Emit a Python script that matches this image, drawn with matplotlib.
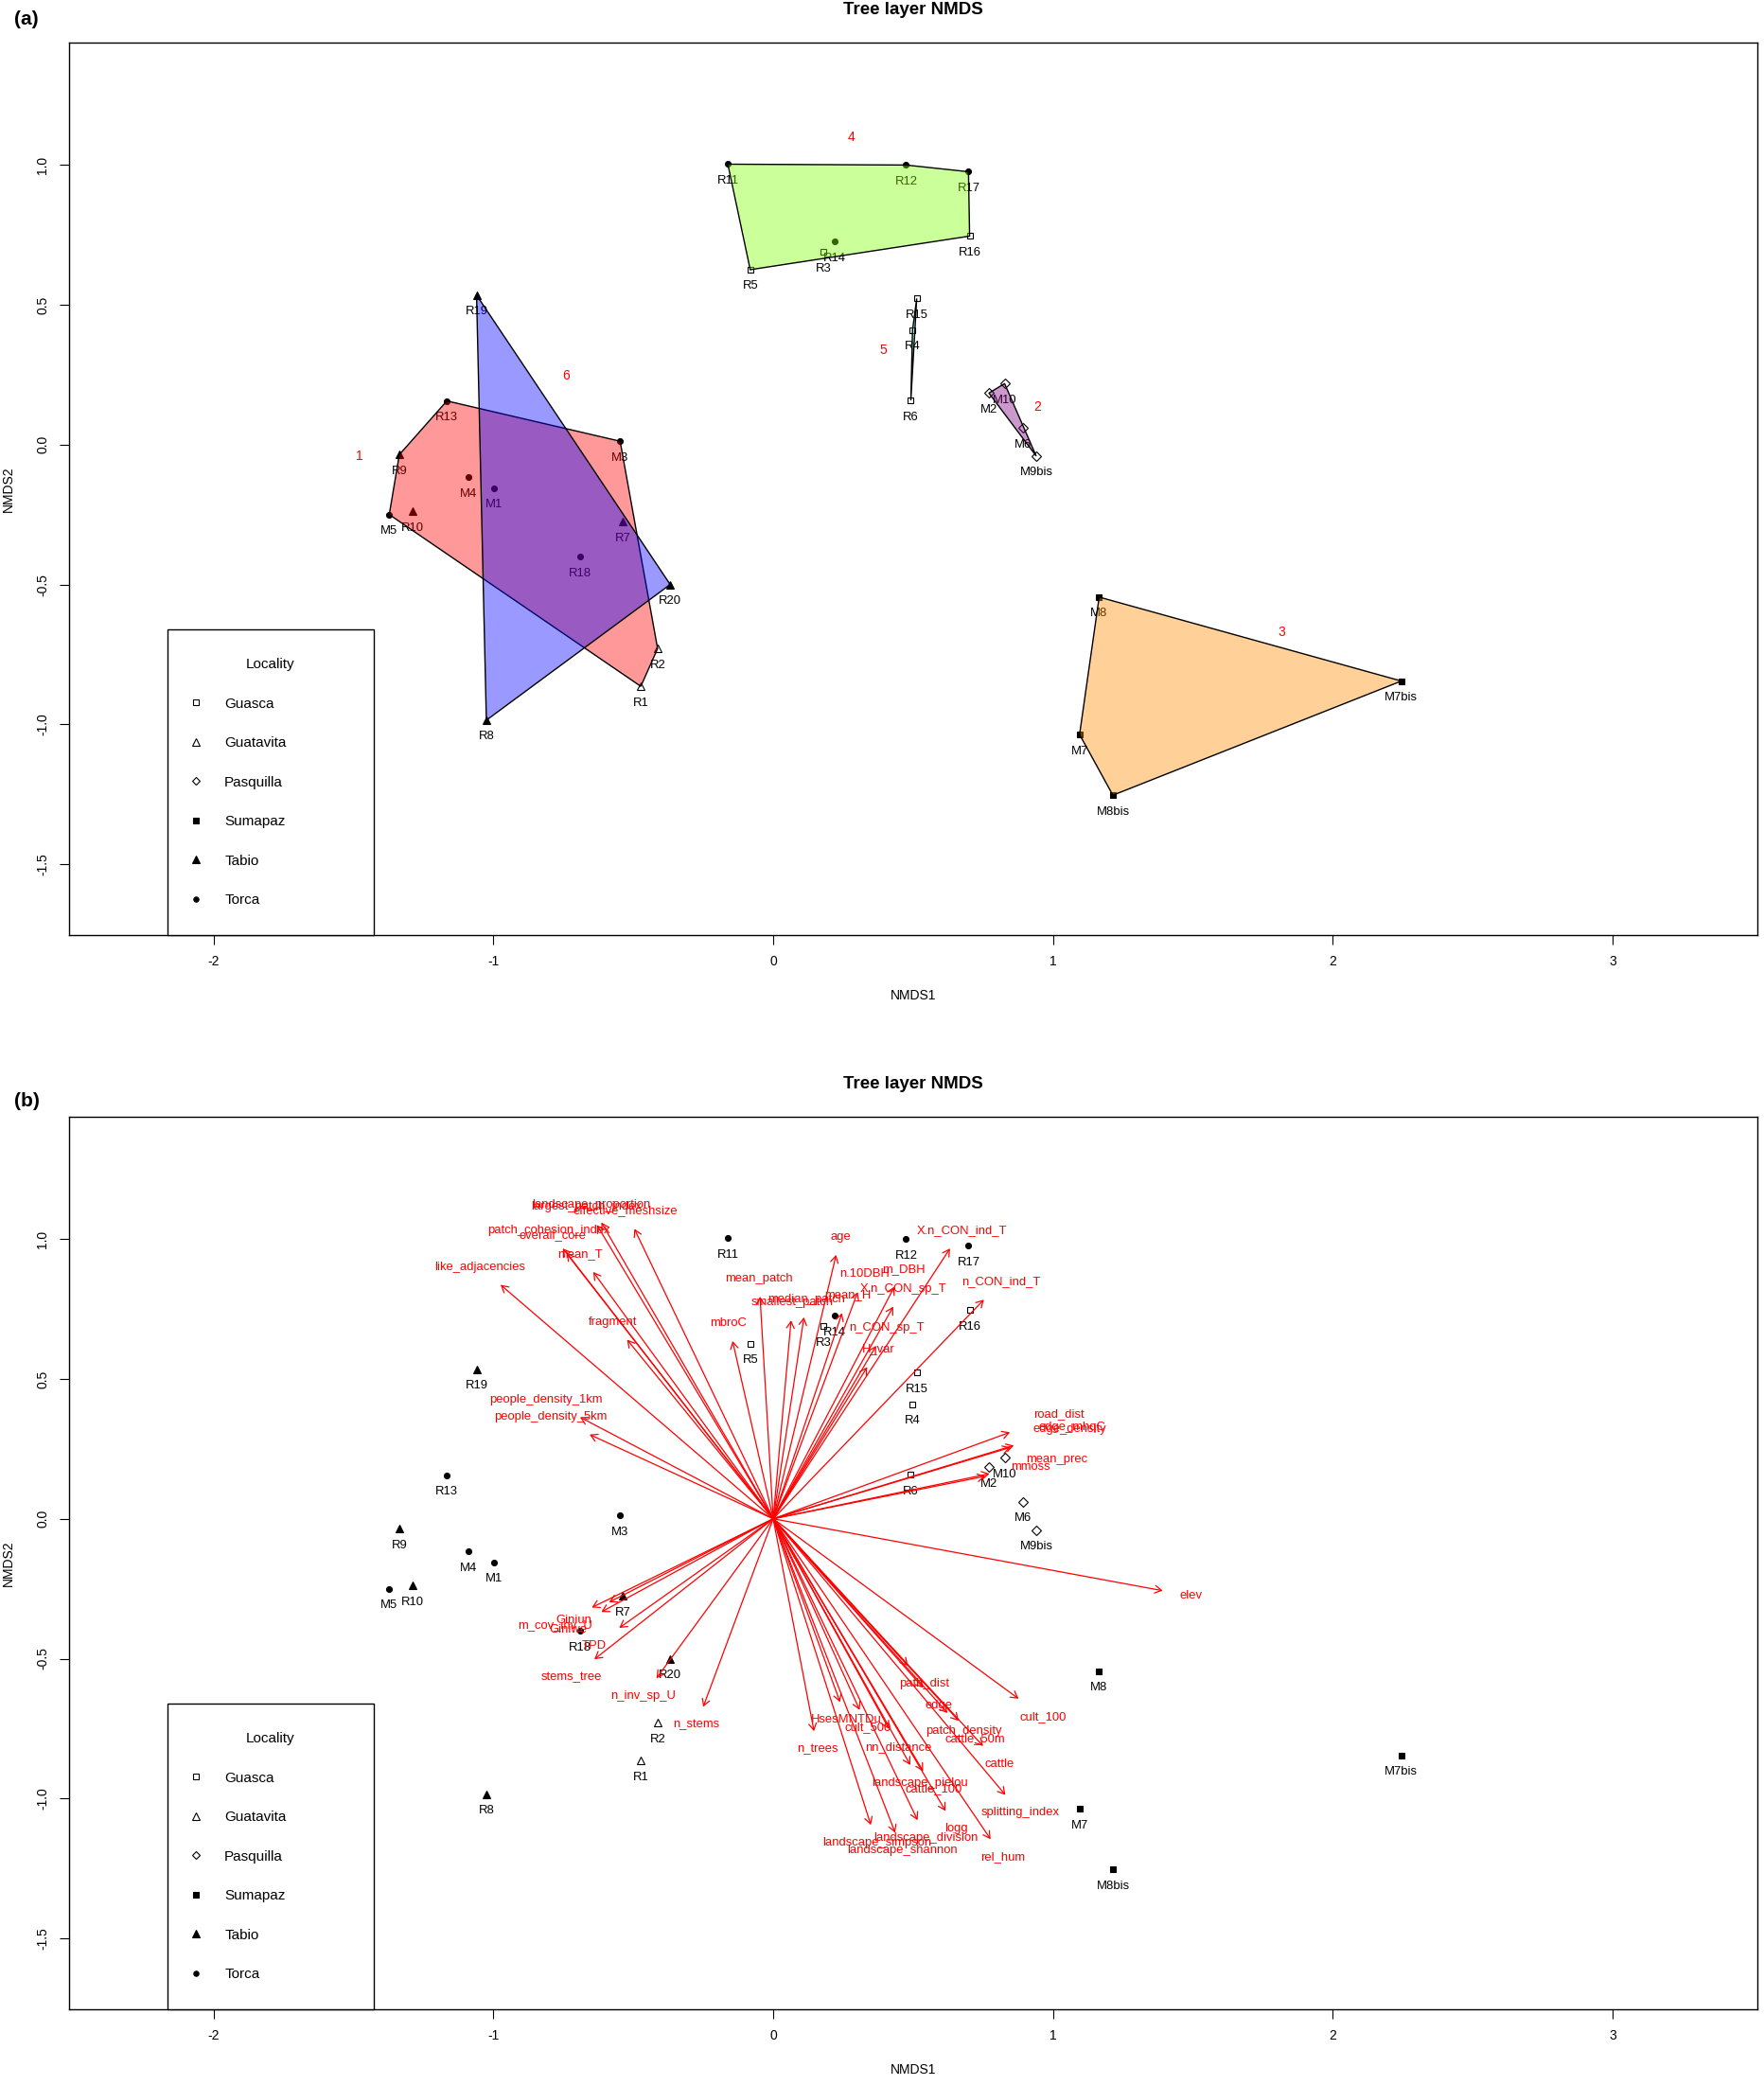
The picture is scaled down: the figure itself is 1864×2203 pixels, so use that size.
import numpy as np
import matplotlib.pyplot as plt
from matplotlib.lines import Line2D
from matplotlib.patches import Polygon

plt.rcParams['font.family'] = ['Liberation Sans', 'DejaVu Sans']
plt.rcParams['axes.unicode_minus'] = False

# site scores (NMDS1, NMDS2), locality and cluster
site = ['R1', 'R2', 'R3', 'R4', 'R5', 'R6', 'R7', 'R8', 'R9', 'R10',
        'R11', 'R12', 'R13', 'R14', 'R15', 'R16', 'R17', 'R18', 'R19', 'R20',
        'M1', 'M2', 'M3', 'M4', 'M5', 'M6', 'M7', 'M7bis', 'M8', 'M8bis',
        'M9bis', 'M10']
nmds1 = [-0.473, -0.413, 0.179, 0.498, -0.082, 0.492, -0.537, -1.025, -1.336, -1.290,
         -0.162, 0.475, -1.166, 0.221, 0.513, 0.702, 0.698, -0.689, -1.060, -0.368,
         -0.997, 0.771, -0.547, -1.088, -1.372, 0.892, 1.095, 2.245, 1.165, 1.214,
         0.940, 0.827]
nmds2 = [-0.864, -0.729, 0.689, 0.409, 0.625, 0.158, -0.275, -0.985, -0.036, -0.238,
         1.002, 0.999, 0.156, 0.725, 0.522, 0.745, 0.975, -0.401, 0.534, -0.500,
         -0.155, 0.184, 0.012, -0.117, -0.250, 0.060, -1.036, -0.845, -0.545, -1.253,
         -0.041, 0.218]
locality = ['Guatavita', 'Guatavita', 'Guasca', 'Guasca', 'Guasca', 'Guasca', 'Tabio', 'Tabio', 'Tabio', 'Tabio',
            'Torca', 'Torca', 'Torca', 'Torca', 'Guasca', 'Guasca', 'Torca', 'Torca', 'Tabio', 'Tabio',
            'Torca', 'Pasquilla', 'Torca', 'Torca', 'Torca', 'Pasquilla', 'Sumapaz', 'Sumapaz', 'Sumapaz', 'Sumapaz',
            'Pasquilla', 'Pasquilla']
cluster = [1, 1, 4, 5, 4, 5, 6, 6, 1, 1,
           4, 4, 1, 4, 5, 4, 4, 6, 6, 6,
           6, 2, 1, 1, 1, 2, 3, 3, 3, 3,
           2, 2]

# cluster numbers written on panel (a)
clus_id = [1, 2, 3, 4, 5, 6]
clus_x = [-1.48, 0.943, 1.817, 0.28, 0.393, -0.74]
clus_y = [-0.04, 0.136, -0.669, 1.10, 0.339, 0.246]
clus_col = ['red', 'purple', 'darkorange', 'chartreuse', 'cyan', 'blue']

# fitted environmental vectors (arrow tips)
env_name = ['like_adjacencies', 'patch_cohesion_index', 'overall_core', 'landscape_proportion',
            'largest_patch_index', 'effective_meshsize', 'mean_T', 'fragment', 'mbroC', 'mean_patch',
            'smallest_patch', 'median_patch', 'age', 'n.10DBH', 'm_DBH', 'mean_H', 'X.n_CON_sp_T',
            'X.n_CON_ind_T', 'n_CON_ind_T', 'n_CON_sp_T', 'H_var', 'people_density_1km',
            'people_density_5km', 'road_dist', 'edge_density', 'edge_mhqC', 'mean_prec', 'mmoss',
            'elev', 'm_cov_inv_U', 'Giniun', 'Giniwe', 'TPD', 'stems_tree', 'n_inv_sp_U', 'n_stems',
            'n_trees', 'HsesMNTDu', 'cult_500', 'nn_distance', 'path_dist', 'edge', 'patch_density',
            'cattle_50m', 'cult_100', 'cattle', 'splitting_index', 'landscape_pielou', 'cattle_100',
            'logg', 'landscape_division', 'landscape_simpson', 'landscape_shannon', 'rel_hum']
env_x = [-0.974, -0.752, -0.738, -0.614, -0.630, -0.496, -0.643, -0.522, -0.145, -0.047,
         0.064, 0.110, 0.225, 0.302, 0.433, 0.246, 0.429, 0.632, 0.753, 0.368,
         0.336, -0.690, -0.656, 0.846, 0.848, 0.860, 0.773, 0.758, 1.392, -0.648,
         -0.586, -0.614, -0.550, -0.639, -0.417, -0.250, 0.146, 0.239, 0.309, 0.414,
         0.482, 0.536, 0.623, 0.663, 0.877, 0.750, 0.830, 0.490, 0.536, 0.616,
         0.516, 0.349, 0.436, 0.777]
env_y = [0.836, 0.966, 0.950, 1.059, 1.050, 1.036, 0.882, 0.640, 0.635, 0.794,
         0.709, 0.720, 0.943, 0.810, 0.829, 0.735, 0.758, 0.966, 0.783, 0.618,
         0.542, 0.363, 0.301, 0.309, 0.255, 0.262, 0.161, 0.152, -0.257, -0.317,
         -0.298, -0.333, -0.390, -0.502, -0.570, -0.672, -0.759, -0.655, -0.683, -0.751,
         -0.525, -0.604, -0.694, -0.722, -0.643, -0.812, -0.987, -0.880, -0.902, -1.044,
         -1.077, -1.094, -1.122, -1.145]

loc_names = ['Guasca', 'Guatavita', 'Pasquilla', 'Sumapaz', 'Tabio', 'Torca']
loc_marker = {'Guasca': ('s', 'none', 5.0), 'Guatavita': ('^', 'none', 6.0),
              'Pasquilla': ('D', 'none', 4.6), 'Sumapaz': ('s', 'black', 5.0),
              'Tabio': ('^', 'black', 6.0), 'Torca': ('o', 'black', 4.3)}

xticks = [-2, -1, 0, 1, 2, 3]
yticks = [-1.5, -1.0, -0.5, 0.0, 0.5, 1.0]

FS = 9.4


def convex_hull(pts):
    pts = sorted(set(pts))
    if len(pts) < 3:
        return pts

    def cross(o, a, b):
        return (a[0] - o[0]) * (b[1] - o[1]) - (a[1] - o[1]) * (b[0] - o[0])
    lower, upper = [], []
    for p in pts:
        while len(lower) >= 2 and cross(lower[-2], lower[-1], p) <= 0:
            lower.pop()
        lower.append(p)
    for p in reversed(pts):
        while len(upper) >= 2 and cross(upper[-2], upper[-1], p) <= 0:
            upper.pop()
        upper.append(p)
    return lower[:-1] + upper[:-1]


def setup(ax):
    ax.set_xlim(-2.516, 3.517)
    ax.set_ylim(-1.753, 1.436)
    ax.set_xticks(xticks)
    ax.set_xticklabels([str(t) for t in xticks])
    ax.set_yticks(yticks)
    ax.set_yticklabels(['%.1f' % t for t in yticks], rotation=90, va='center')
    ax.tick_params(direction='out', length=7, width=0.8, labelsize=10, pad=8)
    for s in ax.spines.values():
        s.set_linewidth(1.0)
    ax.set_xlabel('NMDS1', fontsize=10, labelpad=16)
    ax.set_ylabel('NMDS2', fontsize=10, labelpad=16)
    ax.set_title('Tree layer NMDS', fontsize=13.5, fontweight='bold', pad=22)


def draw_sites(ax):
    x = np.array(nmds1)
    y = np.array(nmds2)
    loc = np.array(locality)
    for name in loc_names:
        m, fc, ms = loc_marker[name]
        sel = loc == name
        ax.plot(x[sel], y[sel], linestyle='none', marker=m, markersize=ms,
                markerfacecolor=fc, markeredgecolor='black', markeredgewidth=0.8, zorder=2)
    for s, xi, yi in zip(site, nmds1, nmds2):
        ax.annotate(s, (xi, yi), xytext=(0, -12.6), textcoords='offset points',
                    ha='center', va='center', fontsize=FS, color='black', zorder=2)


def add_legend(ax):
    handles = []
    for name in loc_names:
        m, fc, ms = loc_marker[name]
        handles.append(Line2D([], [], linestyle='none', marker=m, markersize=ms * 0.9,
                              markerfacecolor=fc, markeredgecolor='black', markeredgewidth=0.8))
    leg = ax.legend(handles, loc_names, title='Locality', loc='lower left',
                    bbox_to_anchor=(0.0581, 0.0, 0.1222, 0.5), mode='expand', borderaxespad=0,
                    fontsize=11, title_fontsize=11, borderpad=1.95, handlelength=0.05,
                    handletextpad=1.96, labelspacing=1.8, fancybox=False, framealpha=1,
                    edgecolor='black')
    leg.get_frame().set_linewidth(1.0)


fig = plt.figure(figsize=(18.64, 22.03), dpi=100)
axa = fig.add_axes([0.0392, 0.5515, 0.957, 0.428])
axb = fig.add_axes([0.0392, 0.0363, 0.957, 0.428])

# ---- panel (a): sites with cluster hulls
setup(axa)
draw_sites(axa)
for cid, col in zip(clus_id, clus_col):
    pts = [(xi, yi) for xi, yi, c in zip(nmds1, nmds2, cluster) if c == cid]
    hull = convex_hull(pts)
    axa.add_patch(Polygon(hull, closed=True, facecolor=col, alpha=0.4,
                          edgecolor='none', zorder=3))
    axa.add_patch(Polygon(hull, closed=True, facecolor='none',
                          edgecolor='black', linewidth=1.0, zorder=3))
for cid, cx, cy in zip(clus_id, clus_x, clus_y):
    axa.text(cx, cy, str(cid), color='red', fontsize=10, ha='center', va='center', zorder=4)
add_legend(axa)

# ---- panel (b): sites with fitted vectors
setup(axb)
draw_sites(axb)
renderer = fig.canvas.get_renderer()
h = FS * fig.dpi / 72 * 0.965
o = axb.transData.transform((0, 0))
for name, vx, vy in zip(env_name, env_x, env_y):
    axb.annotate('', xy=(vx, vy), xytext=(0, 0),
                 arrowprops=dict(arrowstyle='->,head_length=5,head_width=2.9', mutation_scale=1,
                                 color='red', lw=0.9, shrinkA=0, shrinkB=0), zorder=3)
    t = axb.text(0, 0, name, color='red', fontsize=FS, ha='center', va='center', zorder=4)
    w = t.get_window_extent(renderer).width
    tip = axb.transData.transform((vx, vy))
    dx, dy = tip - o
    offx = np.sign(dx) * (w + h / 2)
    offy = np.sign(dy) * 1.5 * h
    b = dy / dx
    move = offy / b
    if np.isfinite(move) and abs(move) <= abs(offx):
        offx = move
    else:
        offy = b * offx
    t.set_position(axb.transData.inverted().transform(tip + np.array([offx, offy])))
add_legend(axb)

fig.text(0.015, 0.9905, '(a)', fontsize=15, fontweight='bold', ha='center', va='center')
fig.text(0.015, 0.472, '(b)', fontsize=15, fontweight='bold', ha='center', va='center')

fig.savefig('out.png', dpi=100)
